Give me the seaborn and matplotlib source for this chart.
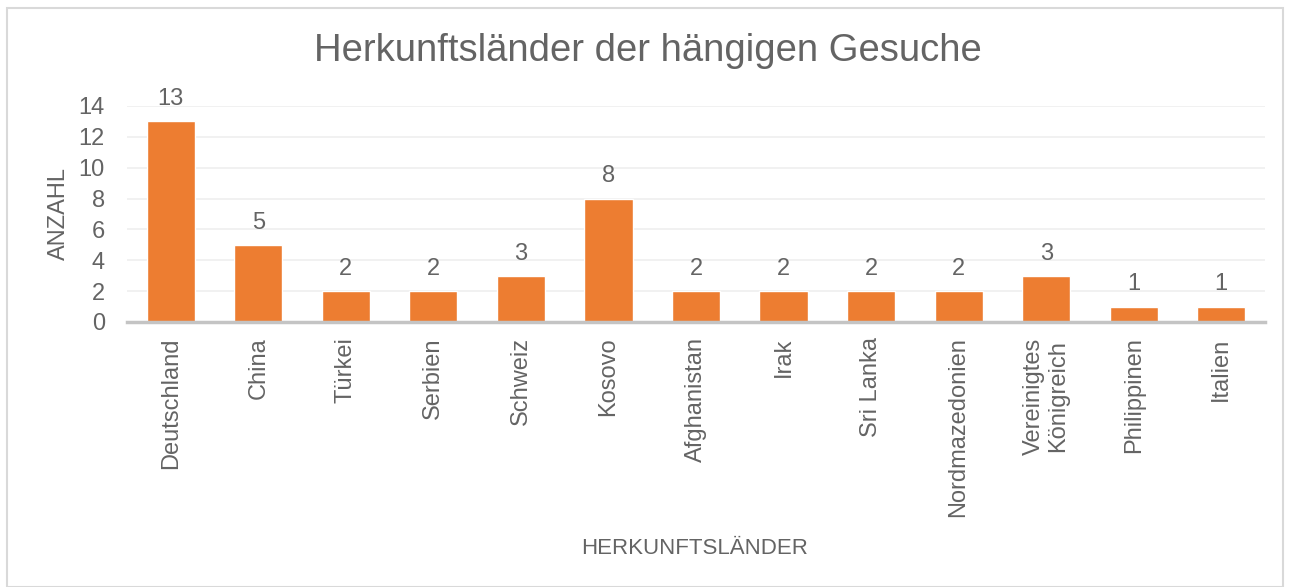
"""Bar chart: Herkunftsländer der hängigen Gesuche."""

import matplotlib
matplotlib.use("Agg")
import matplotlib.pyplot as plt
import pandas as pd
import seaborn as sns

# Data
countries = ["Deutschland", "China", "Türkei", "Serbien", "Schweiz", "Kosovo",
             "Afghanistan", "Irak", "Sri Lanka", "Nordmazedonien",
             "Vereinigtes\nKönigreich", "Philippinen", "Italien"]
counts = [13, 5, 2, 2, 3, 8, 2, 2, 2, 2, 3, 1, 1]
y_ticks = [0, 2, 4, 6, 8, 10, 12, 14]

TEXT = "#646464"
ORANGE = "#ED7D31"

sns.set_theme(style="white")
plt.rcParams["font.family"] = ["Liberation Sans", "DejaVu Sans"]

df = pd.DataFrame({"Land": countries, "Anzahl": counts})

fig = plt.figure(figsize=(12.9, 5.87), dpi=100)
ax = fig.add_axes([127 / 1290, 1 - 322 / 587, (1265 - 127) / 1290, (322 - 106) / 587])

sns.barplot(data=df, x="Land", y="Anzahl", color=ORANGE, width=0.55,
            saturation=1, ax=ax, zorder=3)

ax.set_ylim(0, 14)
ax.set_xlim(-0.5, len(countries) - 0.5)
ax.set_yticks(y_ticks)
ax.yaxis.grid(True, color="#EFEFEF", linewidth=1.2, zorder=0)
ax.set_axisbelow(True)
for side in ["top", "right", "left"]:
    ax.spines[side].set_visible(False)
ax.spines["bottom"].set_color("#C4C4C4")
ax.spines["bottom"].set_linewidth(2.5)
ax.spines["bottom"].set_zorder(4)
ax.tick_params(axis="both", length=0, colors=TEXT, labelsize=17)
ax.tick_params(axis="y", pad=16)
ax.tick_params(axis="x", pad=11)
ax.set_xticks(range(len(countries)))
ax.set_xticklabels(countries, rotation=90, va="top", ha="center", linespacing=1.1)

for i, v in enumerate(counts):
    ax.annotate(str(v), (i, v), xytext=(0, 8), textcoords="offset points",
                ha="center", va="bottom", fontsize=17, color=TEXT)

ax.set_ylabel("ANZAHL", fontsize=17, color=TEXT, labelpad=6)
ax.set_xlabel("")
fig.text(695 / 1290, 1 - 548 / 587, "HERKUNFTSLÄNDER", ha="center", va="center",
         fontsize=16, color=TEXT)
fig.text(648 / 1290, 1 - 51 / 587, "Herkunftsländer der hängigen Gesuche",
         ha="center", va="center", fontsize=27.5, color=TEXT)

# outer frame like the Excel chart area
frame = plt.Rectangle((7 / 1290, 0), 1276 / 1290, 1 - 8 / 587, transform=fig.transFigure,
                      fill=False, edgecolor="#D9D9D9", linewidth=1.5)
fig.patches.append(frame)

fig.savefig("out.png", dpi=100)
plt.close()
